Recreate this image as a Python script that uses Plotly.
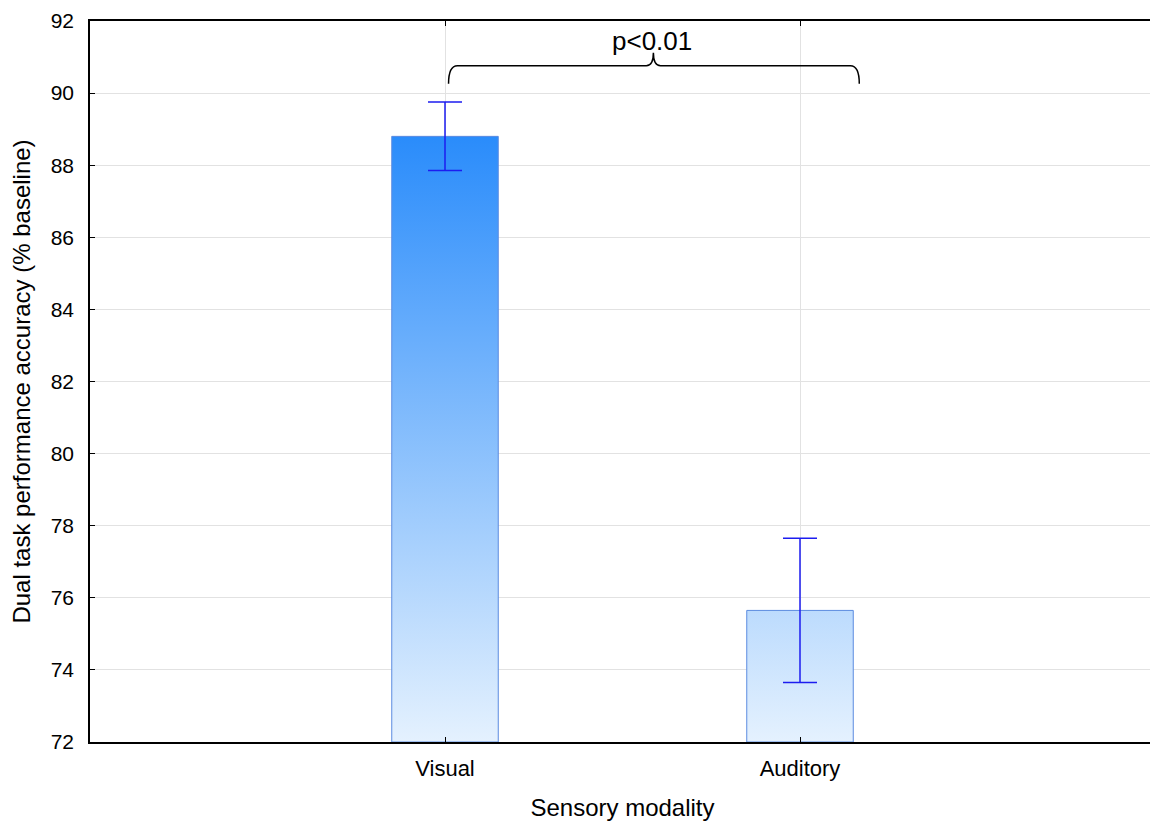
import plotly.graph_objects as go

categories = ["Visual", "Auditory"]
means = [88.8, 75.65]
errors = [0.95, 2.0]
y_ticks = [72, 74, 76, 78, 80, 82, 84, 86, 88, 90, 92]
y_base = 72
annotation_text = "p<0.01"

bar_width = 0.30
cat_pos = list(range(len(categories)))

fig = go.Figure()

for i, (pos, m) in enumerate(zip(cat_pos, means)):
    x0, x1 = pos - bar_width / 2, pos + bar_width / 2
    fig.add_trace(go.Scatter(
        x=[x0, x0, x1, x1, x0],
        y=[y_base, m, m, y_base, y_base],
        mode="lines",
        fill="toself",
        fillgradient=dict(type="vertical",
                          colorscale=[[0, "#e6f2fe"], [1, "#2a8cfb"]],
                          start=y_base, stop=max(means)),
        line=dict(color="#5b8be0", width=1),
        showlegend=False, hoverinfo="skip",
    ))

fig.add_trace(go.Scatter(
    x=cat_pos, y=means, mode="markers",
    marker=dict(size=1, color="rgba(0,0,0,0)"),
    error_y=dict(type="data", array=errors, color="#1c1cf0", thickness=1.5, width=17),
    showlegend=False,
))

# brace spanning both groups
bx0, bx1, bxc = 0.01, 1.167, 0.587
by0, by1, byc = 90.26, 90.76, 91.12
dx = 0.025
dxc = 0.02
path = (f"M {bx0},{by0} Q {bx0},{by1} {bx0+dx},{by1} L {bxc-dxc},{by1} "
        f"Q {bxc},{by1} {bxc},{byc} Q {bxc},{by1} {bxc+dxc},{by1} "
        f"L {bx1-dx},{by1} Q {bx1},{by1} {bx1},{by0}")
fig.add_shape(type="path", path=path, xref="x", yref="y",
              line=dict(color="black", width=1.5))
fig.add_annotation(x=bxc - 0.005, y=91.45, xref="x", yref="y", text=annotation_text,
                   showarrow=False, font=dict(size=26, color="black"))

axis_common = dict(showline=True, linecolor="black", linewidth=1.5, mirror="ticks",
                   ticks="inside", ticklen=5, tickcolor="black",
                   showgrid=True, gridcolor="#e2e2e2", gridwidth=1, zeroline=False,
                   ticklabeloverflow="allow")

fig.update_xaxes(range=[-1, 2], tickvals=cat_pos, ticktext=categories,
                 tickfont=dict(size=22, color="black"),
                 title=dict(text="Sensory modality", font=dict(size=24, color="black"), standoff=19),
                 ticklabelstandoff=6, **axis_common)
fig.update_yaxes(range=[72, 92], tickvals=y_ticks,
                 tickfont=dict(size=21, color="black"),
                 title=dict(text="Dual task performance accuracy (% baseline)",
                            font=dict(size=24, color="black"), standoff=16),
                 ticklabelstandoff=10, **axis_common)

fig.update_layout(width=1150, height=821,
                  margin=dict(l=82, r=1, t=8, b=87),
                  plot_bgcolor="white", paper_bgcolor="white",
                  font=dict(family="Liberation Sans, Arial, sans-serif", color="black"))

fig.write_html("out.html")
